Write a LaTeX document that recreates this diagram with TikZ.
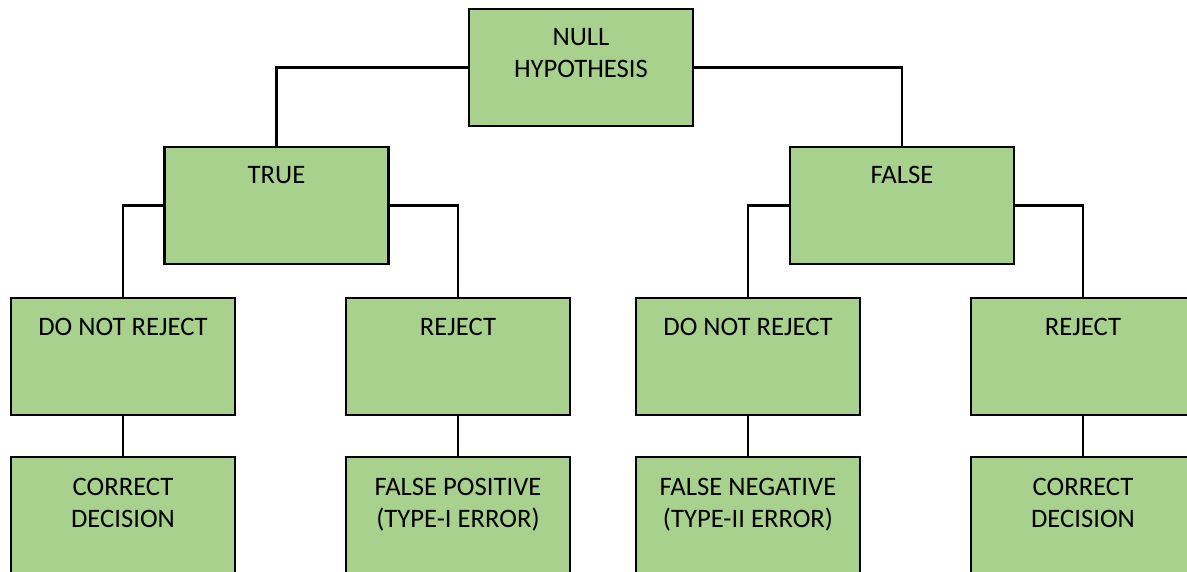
\documentclass[tikz,border=0pt]{standalone}
\usepackage{fontspec}
\setmainfont{Carlito}
\usetikzlibrary{positioning}
\definecolor{boxgreen}{HTML}{A9D18E}

\begin{document}
\begin{tikzpicture}[
    x=0.75pt, y=-0.75pt,
    box/.style={rectangle, draw=black, fill=boxgreen, line width=2pt, minimum width=168pt, minimum height=87.75pt},
    caption/.style={inner sep=0pt, align=center, font=\fontsize{20}{24}\selectfont},
    wire/.style={line width=2.1pt}
  ]
  \useasboundingbox (0,0) rectangle (1187,571);
  \clip (0,0) rectangle (1187,571);

  % Root
  \node[box] (NH) at (581,67.5) {};
  \node[caption, below=15.5pt of NH.north] (NHtext) {NULL\\HYPOTHESIS};

  % Truth of the hypothesis
  \node[box] (T) at (276.5,205.5) {};
  \node[caption, below=15.5pt of T.north] (Ttext) {TRUE};
  \node[box] (F) at (902,205.5) {};
  \node[caption, below=15.5pt of F.north] (Ftext) {FALSE};

  % Decisions
  \foreach \id/\x/\t in {DA/123/DO NOT REJECT, RA/458/REJECT, DB/748/DO NOT REJECT, RB/1083/REJECT} {
    \node[box] (\id) at (\x,356.5) {};
    \node[caption, below=16pt of \id.north] (\id-text) {\t};
  }

  % Outcomes
  \foreach \id/\x/\t in {OA/123/{CORRECT\\DECISION}, OB/458/{FALSE POSITIVE\\(TYPE-I ERROR)}, OC/748/{FALSE NEGATIVE\\(TYPE-II ERROR)}, OD/1083/{CORRECT\\DECISION}} {
    \node[box] (\id) at (\x,515.5) {};
    \node[caption, below=16.5pt of \id.north] (\id-text) {\t};
  }

  % Connections
  \draw[wire] (NH.west) -| (T.north);
  \draw[wire] (NH.east) -| (F.north);
  \draw[wire] (T.west) -| (DA.north);
  \draw[wire] (T.east) -| (RA.north);
  \draw[wire] (F.west) -| (DB.north);
  \draw[wire] (F.east) -| (RB.north);
  \foreach \a/\b in {DA/OA, RA/OB, DB/OC, RB/OD}
    \draw[wire] (\a.south) -- (\b.north);

\end{tikzpicture}
\end{document}
